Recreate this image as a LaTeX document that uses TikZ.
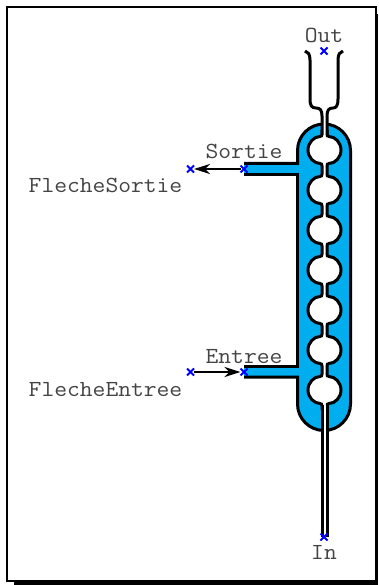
\documentclass[tikz,border=0pt]{standalone}
\usepackage{fontspec}
\newfontfamily\labfont[FakeStretch=1.08]{Latin Modern Mono}
\usetikzlibrary{arrows.meta,shapes.misc}
\definecolor{tube}{HTML}{00AEEF}
\definecolor{labelgray}{HTML}{444444}
\tikzset{
  wall/.style={line width=3pt,black},
  crossmark/.style={draw=blue,cross out,line width=2pt,minimum size=7pt,inner sep=0pt,outer sep=0pt},
  lab/.style={font=\labfont\fontsize{23}{23}\selectfont,text=labelgray,inner sep=0pt,anchor=base},
  flow/.style={line width=2.4pt,-{Stealth[length=16pt,width=10pt,inset=5pt]}},
}
\begin{document}
\begin{tikzpicture}[x=1pt,y=-1pt]
\useasboundingbox (0,0) rectangle (378,585);
% frame and shadow
\fill[black] (14,14) rectangle (378,585);
\draw[line width=2pt,fill=white] (7,7) rectangle (376,581);
% condenser body
\fill[tube] (297.5,150.5) arc[start angle=180,end angle=360,radius=26.5] -- (350.5,404) arc[start angle=0,end angle=180,radius=26.5] -- (297.5,377) -- (244,377) -- (244,366.5) -- (297.5,366.5) -- (297.5,174.5) -- (244,174.5) -- (244,163.5) -- (297.5,163.5) -- cycle;
\draw[wall] (244,163.5) -- (297.5,163.5) -- (297.5,150.5) arc[start angle=180,end angle=360,radius=26.5] -- (350.5,404) arc[start angle=0,end angle=180,radius=26.5] -- (297.5,377) -- (244,377);
\draw[wall] (244,174.5) -- (297.5,174.5) -- (297.5,366.5) -- (244,366.5);
% inner column
\foreach \c in {150,190,230,270,310,350,390}{
  \fill[white] (322,\c-20) -- (322,\c-16) .. controls (322,\c-14.5) and (321.5,\c-13.5) .. (320,\c-13.5) .. controls (314,\c-13.5) and (308,\c-7.5) .. (308,\c) .. controls (308,\c+7.5) and (314,\c+13.5) .. (320,\c+13.5) .. controls (321.5,\c+13.5) and (322,\c+14.5) .. (322,\c+16) -- (322,\c+20)
  -- (327,\c+20) -- (327,\c+16) .. controls (327,\c+14.5) and (327.5,\c+13.5) .. (329,\c+13.5) .. controls (335,\c+13.5) and (341,\c+7.5) .. (341,\c) .. controls (341,\c-7.5) and (335,\c-13.5) .. (329,\c-13.5) .. controls (327.5,\c-13.5) and (327,\c-14.5) .. (327,\c-16) -- (327,\c-20) -- cycle;
  \draw[wall] (322,\c-20) -- (322,\c-16) .. controls (322,\c-14.5) and (321.5,\c-13.5) .. (320,\c-13.5) .. controls (314,\c-13.5) and (308,\c-7.5) .. (308,\c) .. controls (308,\c+7.5) and (314,\c+13.5) .. (320,\c+13.5) .. controls (321.5,\c+13.5) and (322,\c+14.5) .. (322,\c+16) -- (322,\c+20);
  \draw[wall] (327,\c-20) -- (327,\c-16) .. controls (327,\c-14.5) and (327.5,\c-13.5) .. (329,\c-13.5) .. controls (335,\c-13.5) and (341,\c-7.5) .. (341,\c) .. controls (341,\c+7.5) and (335,\c+13.5) .. (329,\c+13.5) .. controls (327.5,\c+13.5) and (327,\c+14.5) .. (327,\c+16) -- (327,\c+20);
}
% upper outlet
\fill[white] (322,135) -- (322,116) -- (327,116) -- (327,135) -- cycle;
\draw[wall] (305,51) .. controls (308,52) and (310,54) .. (310,60) -- (310,99) .. controls (310,106) and (312,108) .. (316,108) .. controls (320,108) and (322,110) .. (322,116) -- (322,135);
\draw[wall] (343,51) .. controls (340,52) and (338,54) .. (338,60) -- (338,99) .. controls (338,106) and (336,108) .. (333,108) .. controls (329,108) and (327,110) .. (327,116) -- (327,135);
% lower inlet
\fill[white] (322,405) rectangle (327,537);
\draw[wall] (322,405) -- (322,537);
\draw[wall] (327,405) -- (327,537);
% markers
\node[crossmark] (out) at (324,51) {};
\node[crossmark] (in) at (324,537) {};
\node[crossmark] (sortie) at (244,169) {};
\node[crossmark] (flechesortie) at (190.5,169) {};
\node[crossmark] (entree) at (244,372) {};
\node[crossmark] (flecheentree) at (190.5,372) {};
% arrows
\draw[flow] (sortie) -- (flechesortie);
\draw[flow] (flecheentree) -- (entree);
% labels
\node[lab] (tout) at (324,43) {Out};
\node[lab] (tin) at (324,559) {In};
\node[lab] (tsortie) at (244,159) {Sortie};
\node[lab] (tentree) at (244,363) {Entree};
\node[lab] (tfs) at (105.5,193) {FlecheSortie};
\node[lab] (tfe) at (105.5,396) {FlecheEntree};
\end{tikzpicture}
\end{document}
